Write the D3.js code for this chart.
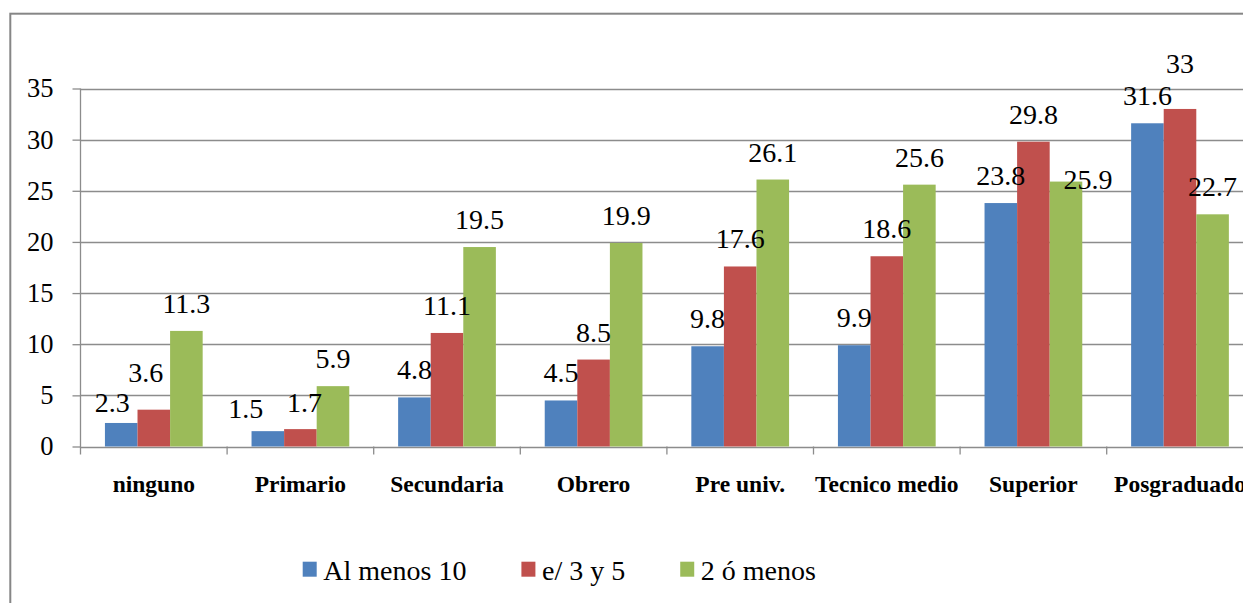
<!DOCTYPE html>
<html>
<head>
<meta charset="utf-8">
<script src="https://cdn.jsdelivr.net/npm/d3@7"></script>
<style>
  html, body { margin: 0; padding: 0; background: #ffffff; }
  svg { display: block; }
  text { font-family: "Liberation Serif", "Times New Roman", serif; fill: #000; }
</style>
</head>
<body>
<svg id="chart" width="1243" height="603"></svg>
<script>
// Nivel educativo
const categories = ["ninguno", "Primario", "Secundaria", "Obrero", "Pre univ.", "Tecnico medio", "Superior", "Posgraduado"];
// Series
const seriesNames = ["Al menos 10", "e/ 3 y 5", "2 ó menos"];
const alMenos10 = [2.3, 1.5, 4.8, 4.5, 9.8, 9.9, 23.8, 31.6];
const entre3y5 = [3.6, 1.7, 11.1, 8.5, 17.6, 18.6, 29.8, 33];
const dosOMenos = [11.3, 5.9, 19.5, 19.9, 26.1, 25.6, 25.9, 22.7];
const yTicks = [0, 5, 10, 15, 20, 25, 30, 35];

const seriesValues = [alMenos10, entre3y5, dosOMenos];
const colors = ["#4F81BD", "#C0504D", "#9BBB59"];

// A few value labels were dragged off their default spot: [dx, dy] in px
const labelNudges = {
  "0|0": [-9, 7],
  "0|1": [-8, -10],
  "1|0": [-22, 5],
  "1|1": [4, 1],
  "6|2": [22, 25],
  "7|1": [0, -18]
};

const svg = d3.select("#chart");

const plot = { left: 80.5, right: 1253.3, top: 88.5, bottom: 446.5 };

const x = d3.scaleBand().domain(categories).range([plot.left, plot.right]).paddingInner(0).paddingOuter(0);
const xs = d3.scaleBand().domain(d3.range(seriesNames.length)).range([0, x.bandwidth()]).paddingInner(0).paddingOuter(0.75);
const y = d3.scaleLinear().domain([0, 35]).range([plot.bottom, plot.top]);

const serif = "'Liberation Serif', 'Times New Roman', serif";

// Chart frame
svg.append("rect")
  .attr("x", 10.3).attr("y", 13.7)
  .attr("width", 1260).attr("height", 640)
  .attr("fill", "none").attr("stroke", "#868686").attr("stroke-width", 2);

const gridColor = "#8c8c8c";

// Horizontal gridlines
svg.append("g").selectAll("line").data(yTicks).join("line")
  .attr("x1", plot.left).attr("x2", plot.right)
  .attr("y1", d => Math.round(y(d)) + 0.5).attr("y2", d => Math.round(y(d)) + 0.5)
  .attr("stroke", gridColor).attr("stroke-width", 1.3);

// Value axis
const yAxis = d3.axisLeft(y).tickValues(yTicks).tickSize(8).tickPadding(19).tickFormat(d3.format("d"));
const gy = svg.append("g").attr("transform", `translate(${plot.left},0)`).call(yAxis);
gy.select(".domain").remove();
gy.selectAll(".tick line").attr("stroke", gridColor).attr("stroke-width", 1.3);
gy.selectAll(".tick text").style("font-family", serif).style("font-size", "26.5px").attr("fill", "#000");
svg.append("line")
  .attr("x1", plot.left).attr("x2", plot.left)
  .attr("y1", plot.top).attr("y2", plot.bottom + 8)
  .attr("stroke", gridColor).attr("stroke-width", 1.3);

// Category tick marks at band boundaries
const boundaries = categories.map(c => x(c)).concat([x(categories[categories.length - 1]) + x.bandwidth()]);
svg.append("g").selectAll("line").data(boundaries.slice(1)).join("line")
  .attr("x1", d => d).attr("x2", d => d)
  .attr("y1", plot.bottom).attr("y2", plot.bottom + 8)
  .attr("stroke", gridColor).attr("stroke-width", 1.3);

// Bars
const groups = svg.append("g").selectAll("g").data(categories).join("g")
  .attr("transform", c => `translate(${x(c)},0)`);

groups.selectAll("rect")
  .data((c, ci) => seriesValues.map((vals, si) => ({ si, ci, v: vals[ci] })))
  .join("rect")
  .attr("x", d => xs(d.si))
  .attr("y", d => y(d.v))
  .attr("width", xs.bandwidth())
  .attr("height", d => y(0) - y(d.v))
  .attr("fill", d => colors[d.si]);

// Value labels
groups.selectAll("text.value")
  .data((c, ci) => seriesValues.map((vals, si) => ({ si, ci, v: vals[ci] })))
  .join("text")
  .attr("class", "value")
  .attr("text-anchor", "middle")
  .attr("x", d => xs(d.si) + xs.bandwidth() / 2 + (labelNudges[d.ci + "|" + d.si] || [0, 0])[0])
  .attr("y", d => y(d.v) - 18 + (labelNudges[d.ci + "|" + d.si] || [0, 0])[1])
  .style("font-family", serif)
  .style("font-size", "28px")
  .text(d => d.v);

// Category labels
svg.append("g").selectAll("text").data(categories).join("text")
  .attr("x", c => x(c) + x.bandwidth() / 2)
  .attr("y", 491.7)
  .attr("text-anchor", "middle")
  .style("font-family", serif)
  .style("font-size", "23.5px")
  .style("font-weight", "bold")
  .text(c => c);

// Legend
const legend = svg.append("g");
let lx = 302.7;
seriesNames.forEach((name, i) => {
  legend.append("rect")
    .attr("x", lx).attr("y", 561.7)
    .attr("width", 14).attr("height", 15)
    .attr("fill", colors[i]);
  const t = legend.append("text")
    .attr("x", lx + 20.6).attr("y", 580)
    .style("font-family", serif)
    .style("font-size", "28px")
    .text(name);
  lx = lx + 20.6 + t.node().getComputedTextLength() + 55;
});
</script>
</body>
</html>
